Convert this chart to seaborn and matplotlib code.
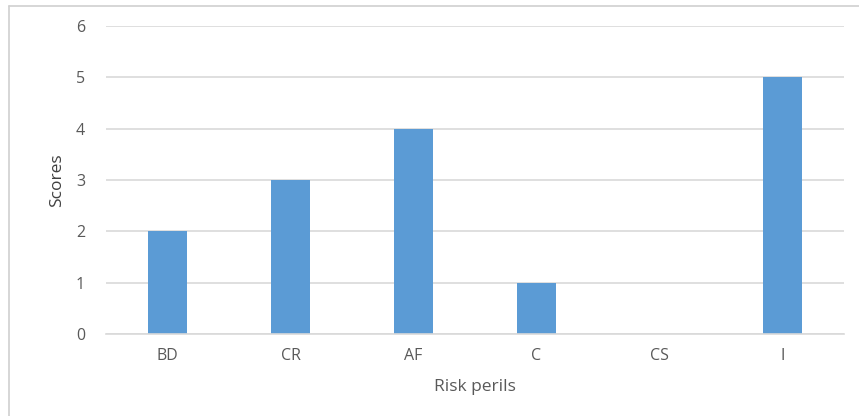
import matplotlib.pyplot as plt
import pandas as pd
import seaborn as sns
from matplotlib.lines import Line2D

# chart data
perils = ["BD", "CR", "AF", "C", "CS", "I"]
scores = [2, 3, 4, 1, 0, 5]
y_ticks = [0, 1, 2, 3, 4, 5, 6]

df = pd.DataFrame({"Risk perils": perils, "Scores": scores})

sns.set_style("white")
plt.rcParams['font.family'] = ['Open Sans', 'DejaVu Sans']

fig = plt.figure(figsize=(8.59, 4.16), dpi=100)
ax = fig.add_axes([106 / 859, 1 - 334 / 416, 738 / 859, 308 / 416])

sns.barplot(data=df, x="Risk perils", y="Scores", color="#5B9BD5",
            saturation=1, width=0.31, linewidth=0, ax=ax)

ax.set_ylim(0, 6)
ax.set_xlim(-0.5, len(perils) - 0.5)
ax.set_yticks(y_ticks)
ax.yaxis.grid(True, color="#D9D9D9", linewidth=1.2)
ax.set_axisbelow(True)
for s in ["top", "right", "left"]:
    ax.spines[s].set_visible(False)
ax.spines["bottom"].set_color("#D9D9D9")
ax.spines["bottom"].set_linewidth(1.2)

ax.tick_params(axis="both", length=0, labelsize=11.5, labelcolor="#595959")
ax.tick_params(axis="y", pad=15)
ax.tick_params(axis="x", pad=10)

ax.set_xlabel("Risk perils", fontsize=12.5, color="#595959", labelpad=11)
ax.set_ylabel("Scores", fontsize=12.5, color="#404040", labelpad=8)

# outer chart border (left and top edges visible, rest clipped)
fig.add_artist(Line2D([8.5 / 859, 8.5 / 859], [0, 1 - 5.5 / 416],
                      transform=fig.transFigure, color="#D0D0D0", linewidth=1.2))
fig.add_artist(Line2D([8.5 / 859, 1], [1 - 5.5 / 416, 1 - 5.5 / 416],
                      transform=fig.transFigure, color="#D0D0D0", linewidth=1.2))

fig.savefig("out.png", dpi=100)
